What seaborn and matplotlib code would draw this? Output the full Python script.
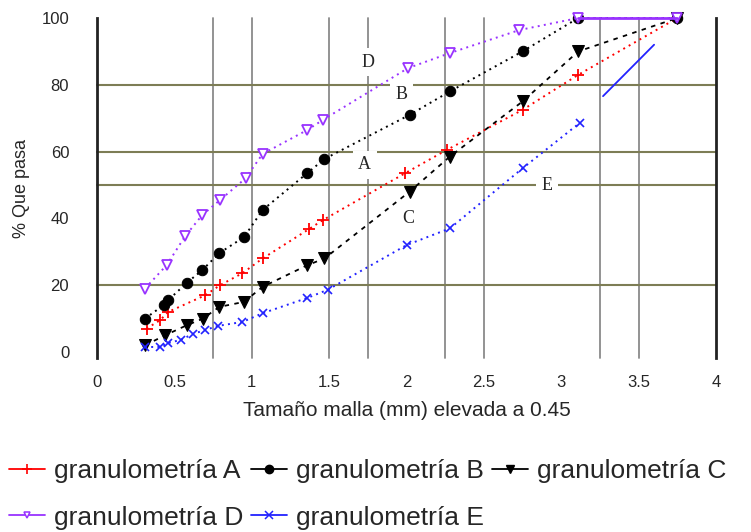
import matplotlib
matplotlib.use("Agg")
import matplotlib.pyplot as plt
from matplotlib.lines import Line2D
import seaborn as sns
import pandas as pd

# ---- data (x = mesh size (mm) ^ 0.45, y = % passing) ----
a_x = [0.32, 0.41, 0.46, 0.70, 0.795, 0.94, 1.07, 1.37, 1.46, 1.99, 2.26, 2.75, 3.11, 3.75]
a_y = [7.0, 9.6, 12.0, 17.0, 20.0, 23.6, 28.0, 36.8, 39.5, 53.5, 60.5, 72.5, 83.0, 100.0]

b_x = [0.31, 0.43, 0.46, 0.58, 0.68, 0.79, 0.95, 1.07, 1.36, 1.47, 2.02, 2.28, 2.75, 3.11, 3.75]
b_y = [10.0, 14.0, 15.5, 20.7, 24.5, 29.6, 34.4, 42.5, 53.6, 57.8, 71.0, 78.0, 90.0, 100.0, 100.0]

c_x = [0.31, 0.44, 0.58, 0.685, 0.79, 0.95, 1.07, 1.36, 1.47, 2.02, 2.28, 2.75, 3.11, 3.75]
c_y = [2.0, 5.0, 8.0, 10.0, 13.5, 15.0, 19.5, 26.0, 28.0, 48.0, 58.5, 75.0, 90.0, 100.0]

d_x = [0.31, 0.45, 0.57, 0.68, 0.795, 0.96, 1.07, 1.36, 1.46, 2.01, 2.28, 2.73, 3.11, 3.75]
d_y = [19.0, 26.0, 34.7, 41.0, 45.5, 52.0, 59.3, 66.5, 69.5, 85.0, 89.5, 96.4, 100.0, 100.0]

e_x = [0.31, 0.41, 0.46, 0.54, 0.62, 0.70, 0.78, 0.94, 1.07, 1.36, 1.49, 2.00, 2.28, 2.75, 3.12]
e_y = [1.5, 1.5, 2.7, 3.6, 5.4, 6.6, 7.8, 9.0, 11.6, 16.2, 18.6, 32.0, 37.0, 55.0, 68.6]
e_seg_x = [3.27, 3.60]
e_seg_y = [76.6, 92.0]

series_names = ["granulometría A", "granulometría B", "granulometría C",
                "granulometría D", "granulometría E"]
curve_labels = ["A", "B", "C", "D", "E"]
label_x = [1.73, 1.97, 2.01, 1.75, 2.91]
label_y = [56.0, 77.2, 40.1, 86.8, 49.7]

hgrid_y = [20, 50, 60, 80]
vgrid_x = [0.75, 1.0, 1.5, 1.75, 2.25, 2.5, 3.25, 3.5]
x_ticks = [0, 0.5, 1, 1.5, 2, 2.5, 3, 3.5, 4]
x_ticklabels = ["0", "0.5", "1", "1.5", "2", "2.5", "3", "3.5", "4"]
y_ticks = [0, 20, 40, 60, 80, 100]

# ---- style ----
sns.set_style("white")
plt.rcParams["font.family"] = ["Liberation Sans", "DejaVu Sans"]

RED = "#ff0000"
BLACK = "#000000"
PURPLE = "#9933ff"
BLUE = "#2222ff"
dot = (0, (1, 2.2))

fig = plt.figure(figsize=(7.51, 5.32), dpi=100)
ax = fig.add_axes([97 / 751, 1 - 358 / 532, 619 / 751, 340 / 532])

def df(x, y):
    return pd.DataFrame({"x": x, "y": y})

for gx in vgrid_x:
    ax.axvline(gx, color="#8a8a8a", lw=1.3, zorder=1)
for gy in hgrid_y:
    ax.axhline(gy, color="#7d7d55", lw=1.5, zorder=1)

common = dict(x="x", y="y", ax=ax, sort=False, estimator=None, legend=False, zorder=4)

sns.lineplot(data=df(a_x, a_y), color=RED, lw=1.4, linestyle=dot,
             marker="+", markersize=8, markeredgewidth=1.3, markeredgecolor=RED, **common)
sns.lineplot(data=df(b_x, b_y), color=BLACK, lw=1.4, linestyle=dot,
             marker="o", markersize=7.5, markeredgecolor=BLACK, **common)
sns.lineplot(data=df(c_x, c_y), color=BLACK, lw=1.3, linestyle=(0, (2.5, 3)),
             marker="v", markersize=8, markeredgecolor=BLACK, **common)
sns.lineplot(data=df(d_x, d_y), color=PURPLE, lw=1.4, linestyle=dot,
             marker="v", markersize=6.5, markerfacecolor="white", markeredgecolor=PURPLE,
             markeredgewidth=1.3, **common)
sns.lineplot(data=df(d_x[-2:], d_y[-2:]), color=PURPLE, lw=2, linestyle="-", **common)
sns.lineplot(data=df(e_x, e_y), color=BLUE, lw=1.4, linestyle=dot,
             marker="x", markersize=6, markeredgewidth=1.2, markeredgecolor=BLUE, **common)
sns.lineplot(data=df(e_seg_x, e_seg_y), color=BLUE, lw=1.3, linestyle="-", **common)

for ln in ax.get_lines():
    ln.set_clip_on(False)

for t, tx, ty in zip(curve_labels, label_x, label_y):
    ax.text(tx, ty, t, fontsize=13, family=["Liberation Serif", "DejaVu Serif"],
            ha="center", va="center", zorder=3,
            bbox=dict(facecolor="white", edgecolor="none", pad=4))

ax.set_xlim(0, 4)
ax.set_ylim(-1.8, 100)
ax.set_xticks(x_ticks)
ax.set_xticklabels(x_ticklabels)
ax.set_yticks(y_ticks)
ax.tick_params(axis="both", length=0, labelsize=12)
ax.tick_params(axis="x", pad=12)
ax.tick_params(axis="y", pad=20)

for s in ["top", "bottom"]:
    ax.spines[s].set_visible(False)
for s in ["left", "right"]:
    ax.spines[s].set_visible(True)
    ax.spines[s].set_color("#222222")
    ax.spines[s].set_linewidth(2)

ax.set_xlabel("Tamaño malla (mm) elevada a 0.45", fontsize=15, labelpad=8)
ax.set_ylabel("% Que pasa", fontsize=13, labelpad=8)

handles = [
    Line2D([], [], color=RED, lw=1.3, marker="+", ms=7, mew=1.2),
    Line2D([], [], color=BLACK, lw=1.3, marker="o", ms=6),
    Line2D([], [], color=BLACK, lw=1.3, marker="v", ms=6),
    Line2D([], [], color=PURPLE, lw=1.3, marker="v", ms=5, mfc="white", mew=1.1),
    Line2D([], [], color=BLUE, lw=1.3, marker="x", ms=6, mew=1.1),
]
order = [0, 3, 1, 4, 2]
fig.legend([handles[i] for i in order], [series_names[i] for i in order],
           loc="upper left", bbox_to_anchor=(0.005, 1 - 454 / 532), ncol=3,
           frameon=False, fontsize=19, handlelength=1.35, handletextpad=0.35,
           columnspacing=0.3, labelspacing=0.85, borderaxespad=0, borderpad=0.2)

fig.savefig("out.png", dpi=100)
